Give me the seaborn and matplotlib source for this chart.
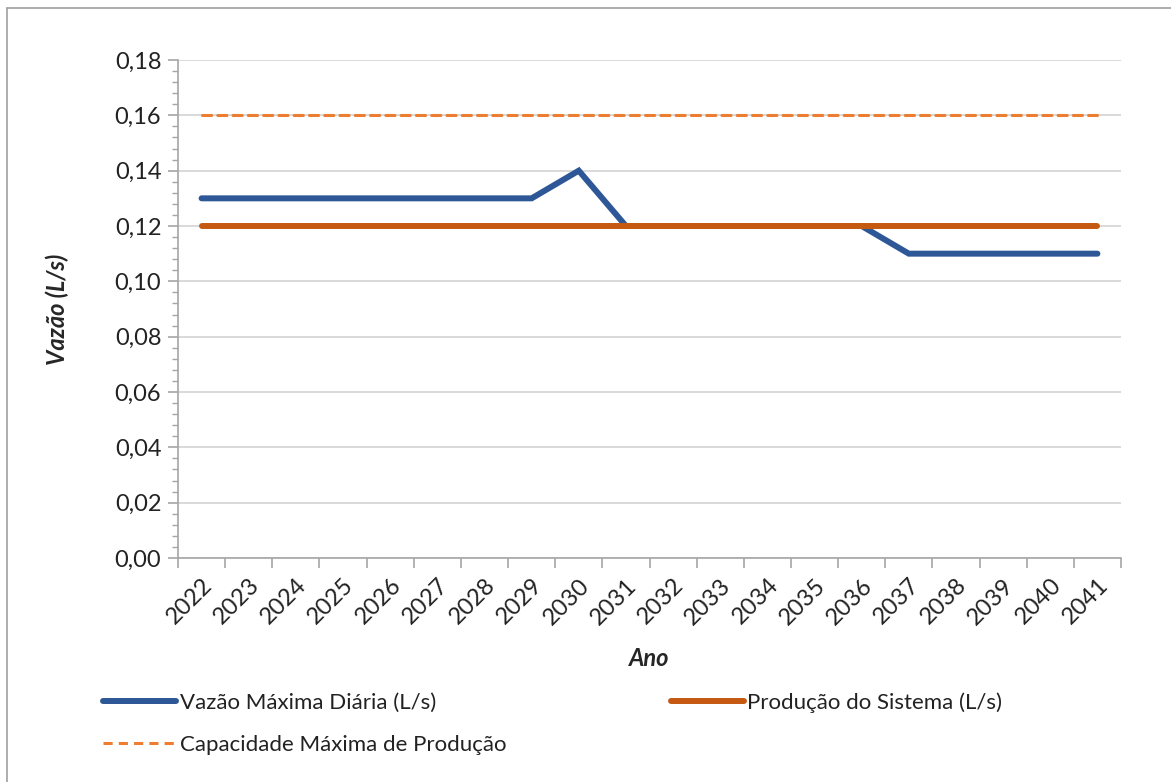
import pandas as pd
import numpy as np
import matplotlib
matplotlib.use("Agg")
import matplotlib.pyplot as plt
import seaborn as sns
from matplotlib.ticker import FuncFormatter, MultipleLocator, FixedLocator
from matplotlib.lines import Line2D

sns.set_theme(style="white")
plt.rcParams["font.family"] = ["Lato", "DejaVu Sans"]

# ---------------------------------------------------------------
# Data
# ---------------------------------------------------------------
anos = [str(a) for a in range(2022, 2042)]
vazao_max_diaria = [0.13, 0.13, 0.13, 0.13, 0.13, 0.13, 0.13, 0.13, 0.14, 0.12,
                    0.12, 0.12, 0.12, 0.12, 0.12, 0.11, 0.11, 0.11, 0.11, 0.11]
producao_sistema = [0.12] * 20
capacidade_max = [0.16] * 20

lbl_vazao = "Vazão Máxima Diária (L/s)"
lbl_prod = "Produção do Sistema (L/s)"
lbl_cap = "Capacidade Máxima de Produção"

df = pd.DataFrame({
    "Ano": anos * 3,
    "valor": vazao_max_diaria + producao_sistema + capacidade_max,
    "serie": [lbl_vazao] * 20 + [lbl_prod] * 20 + [lbl_cap] * 20,
})

c_blue = "#2E5797"
c_orange = "#C65911"
c_dash = "#ED7D31"

fig = plt.figure(figsize=(11.71, 7.82), dpi=100)
ax = fig.add_axes([178 / 1171, 1 - 558 / 782, (1121 - 178) / 1171, (558 - 60) / 782])

sns.lineplot(data=df[df.serie == lbl_vazao], x="Ano", y="valor", color=c_blue,
             lw=4.3, solid_capstyle="round", solid_joinstyle="miter", ax=ax, zorder=3)
sns.lineplot(data=df[df.serie == lbl_prod], x="Ano", y="valor", color=c_orange,
             lw=4.3, solid_capstyle="round", ax=ax, zorder=4)
sns.lineplot(data=df[df.serie == lbl_cap], x="Ano", y="valor", color=c_dash,
             lw=2.2, dashes=False, ax=ax, zorder=4)
ax.lines[-1].set_linestyle((0, (3, 2)))
ax.lines[-1].set_dash_capstyle("round")

# axes styling (Excel look)
ax.set_ylim(0, 0.18)
ax.set_xlim(-0.5, len(anos) - 0.5)
ax.yaxis.set_major_locator(MultipleLocator(0.02))
ax.yaxis.set_minor_locator(MultipleLocator(0.004))
ax.yaxis.set_major_formatter(FuncFormatter(lambda v, p: f"{v:.2f}".replace(".", ",")))
ax.grid(axis="y", which="major", color="#D0D0D0", lw=1.1)
ax.grid(axis="x", visible=False)
for s in ["top", "right"]:
    ax.spines[s].set_visible(False)
for s in ["left", "bottom"]:
    ax.spines[s].set_color("#A6A6A6")
    ax.spines[s].set_linewidth(1.2)

ax.set_xticks(range(len(anos)))
ax.set_xticklabels(anos, rotation=45, ha="right", rotation_mode="anchor")
ax.xaxis.set_minor_locator(FixedLocator(np.arange(-0.5, len(anos), 1.0)))
ax.tick_params(axis="x", which="major", length=0, pad=12, labelsize=17, colors="#222222")
ax.tick_params(axis="x", which="minor", length=7, width=1.2, color="#A6A6A6", direction="out")
ax.tick_params(axis="y", which="major", length=7, width=1.2, color="#A6A6A6",
               direction="out", labelsize=17, pad=5, labelcolor="#222222")
ax.tick_params(axis="y", which="minor", length=4, width=1.0, color="#A6A6A6", direction="out")
ax.tick_params(left=True, bottom=True, which="both")

ax.set_xlabel("Ano", fontsize=17, fontweight="bold", style="italic", labelpad=13)
ax.set_ylabel("Vazão (L/s)", fontsize=17, fontweight="bold", style="italic", labelpad=33)

# legend at bottom: row 1 = vazao, produção ; row 2 = capacidade
h_vazao = Line2D([], [], color=c_blue, lw=4.3, solid_capstyle="round")
h_prod = Line2D([], [], color=c_orange, lw=4.3, solid_capstyle="round")
h_cap = Line2D([], [], color=c_dash, lw=2.2, linestyle=(0, (3, 2)))
fig.legend([h_vazao, h_cap, h_prod], [lbl_vazao, lbl_cap, lbl_prod],
           loc="upper left", bbox_to_anchor=(83 / 1171, 1 - 672 / 782), ncol=2,
           frameon=False, fontsize=16, handlelength=3.3, handletextpad=0.15,
           columnspacing=7.4, labelspacing=1.0, labelcolor="#222222")

# partial frame around the chart area (left and top edges)
fig.add_artist(Line2D([7 / 1171, 7 / 1171], [0, 1 - 8 / 782], color="#A0A0A0", lw=1.2,
                      transform=fig.transFigure))
fig.add_artist(Line2D([7 / 1171, 1], [1 - 8 / 782, 1 - 8 / 782], color="#A0A0A0", lw=1.2,
                      transform=fig.transFigure))

fig.savefig("out.png", dpi=100)
plt.close()
